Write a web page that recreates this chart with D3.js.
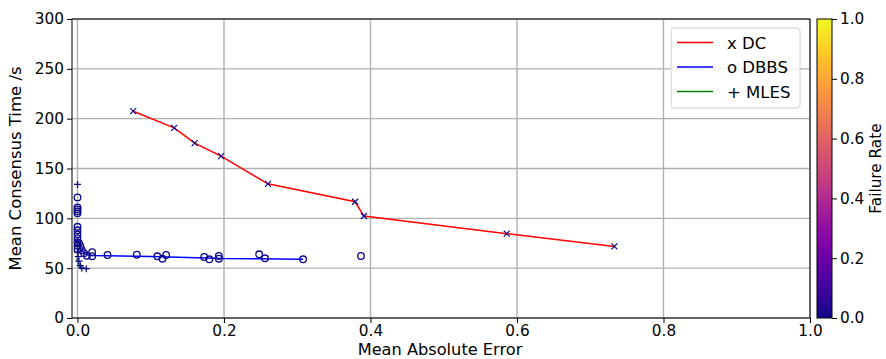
<!DOCTYPE html>
<html>
<head>
<meta charset="utf-8">
<script src="https://cdn.jsdelivr.net/npm/d3@7"></script>
<style>
  html, body { margin: 0; padding: 0; background: #fff; }
  svg { display: block; font-family: "DejaVu Sans", sans-serif; }
</style>
</head>
<body>
<svg id="chart" width="886" height="359"></svg>
<script>
// ---- data ----
// DC: mean absolute error, mean consensus time, failure rate
const dcError = [0.076, 0.132, 0.160, 0.196, 0.260, 0.379, 0.391, 0.586, 0.733];
const dcTime  = [207.5, 190.8, 175.5, 162.4, 134.6, 116.6, 102.3, 84.6, 71.8];
const dcFail  = [0, 0, 0, 0, 0, 0, 0, 0, 0];

// DBBS scatter points
const dbbsError = [0.000, 0.000, 0.000, 0.000, 0.000, 0.000, 0.000, 0.000, 0.000, 0.000, 0.000, 0.000,
                   0.002, 0.004, 0.006, 0.009, 0.013, 0.020, 0.020, 0.041, 0.081, 0.109, 0.116, 0.121,
                   0.173, 0.180, 0.193, 0.193, 0.248, 0.256, 0.308, 0.387];
const dbbsTime  = [121, 111, 109, 107, 105, 91.5, 88, 84, 80, 76, 72.5, 69,
                   75, 72, 68, 65, 62.5, 66, 62, 63.2, 63.5, 61.9, 59.5, 63.2,
                   61.2, 58.9, 62.2, 59.5, 63.9, 59.9, 58.9, 62.2];
const dbbsFail  = dbbsError.map(() => 0);

// DBBS trend line
const dbbsLineError = [0.000, 0.004, 0.010, 0.020, 0.100, 0.200, 0.308];
const dbbsLineTime  = [79, 70, 64.5, 62.8, 61.8, 59.6, 59.0];

// MLES scatter points
const mlesError = [0.000, 0.000, 0.001, 0.002, 0.004, 0.006, 0.012];
const mlesTime  = [134, 66, 61.5, 57, 52.5, 50, 49.5];
const mlesFail  = mlesError.map(() => 0);

// MLES trend line
const mlesLineError = [-0.001, 0.003, 0.013];
const mlesLineTime  = [60, 50.5, 49.5];

// tick labels
const xTicks = [0.0, 0.2, 0.4, 0.6, 0.8, 1.0];
const yTicks = [0, 50, 100, 150, 200, 250, 300];
const cbTicks = [0.0, 0.2, 0.4, 0.6, 0.8, 1.0];

const legendItems = [
  { label: "x DC", color: "#ff0000" },
  { label: "o DBBS", color: "#0000ff" },
  { label: "+ MLES", color: "#008000" }
];

// ---- layout ----
const svg = d3.select("#chart");
const plot = { left: 72, right: 810, top: 19, bottom: 318 };
const x = d3.scaleLinear().domain([-0.0075, 1.0]).range([plot.left, plot.right]);
const y = d3.scaleLinear().domain([0, 300]).range([plot.bottom, plot.top]);
const colorOf = v => d3.interpolatePlasma(v);
const tickFont = 15.3;
const labelFont = 16.5;

// grid
const grid = svg.append("g").attr("stroke", "#b0b0b0").attr("stroke-width", 1.4);
xTicks.forEach(t => grid.append("line")
  .attr("x1", x(t)).attr("x2", x(t)).attr("y1", plot.top).attr("y2", plot.bottom));
yTicks.forEach(t => grid.append("line")
  .attr("x1", plot.left).attr("x2", plot.right).attr("y1", y(t)).attr("y2", y(t)));

// lines
const line = d3.line().x(d => x(d[0])).y(d => y(d[1]));
const zip = (a, b) => a.map((v, i) => [v, b[i]]);

svg.append("path").datum(zip(dcError, dcTime))
  .attr("d", line).attr("fill", "none").attr("stroke", "#ff0000").attr("stroke-width", 1.5);
svg.append("path").datum(zip(dbbsLineError, dbbsLineTime))
  .attr("d", line).attr("fill", "none").attr("stroke", "#0000ff").attr("stroke-width", 1.5);
svg.append("path").datum(zip(mlesLineError, mlesLineTime))
  .attr("d", line).attr("fill", "none").attr("stroke", "#008000").attr("stroke-width", 1.5);

// markers, coloured by failure rate
svg.append("g").selectAll("circle")
  .data(dbbsError.map((e, i) => ({ e, t: dbbsTime[i], f: dbbsFail[i] })))
  .join("circle")
  .attr("cx", d => x(d.e)).attr("cy", d => y(d.t)).attr("r", 3.3)
  .attr("fill", "none").attr("stroke", d => colorOf(d.f)).attr("stroke-width", 1.3);

// "+" drawn as two strokes
svg.append("g").selectAll("path")
  .data(mlesError.map((e, i) => ({ e, t: mlesTime[i], f: mlesFail[i] })))
  .join("path")
  .attr("transform", d => `translate(${x(d.e)},${y(d.t)})`)
  .attr("d", "M-3.5,0H3.5M0,-3.5V3.5")
  .attr("fill", "none").attr("stroke", d => colorOf(d.f)).attr("stroke-width", 1.2);

// "x" drawn as two diagonal strokes
svg.append("g").selectAll("path")
  .data(dcError.map((e, i) => ({ e, t: dcTime[i], f: dcFail[i] })))
  .join("path")
  .attr("transform", d => `translate(${x(d.e)},${y(d.t)})`)
  .attr("d", "M-3,-3L3,3M-3,3L3,-3")
  .attr("fill", "none").attr("stroke", d => colorOf(d.f)).attr("stroke-width", 1.2);

// axes
const xAxis = d3.axisBottom(x).tickValues(xTicks).tickFormat(d3.format(".1f")).tickSize(5).tickPadding(2);
const yAxis = d3.axisLeft(y).tickValues(yTicks).tickFormat(d3.format("d")).tickSize(5).tickPadding(3);

const gx = svg.append("g").attr("transform", `translate(0,${plot.bottom})`).call(xAxis);
const gy = svg.append("g").attr("transform", `translate(${plot.left},0)`).call(yAxis);
[gx, gy].forEach(g => {
  g.selectAll("text").attr("font-size", tickFont).attr("font-family", "DejaVu Sans").attr("fill", "#000");
  g.selectAll("line").attr("stroke", "#000").attr("stroke-width", 1);
  g.select(".domain").remove();
});

// spines
svg.append("rect")
  .attr("x", plot.left).attr("y", plot.top)
  .attr("width", plot.right - plot.left).attr("height", plot.bottom - plot.top)
  .attr("fill", "none").attr("stroke", "#000").attr("stroke-width", 1);

// axis titles
svg.append("text").attr("x", (plot.left + plot.right) / 2 - 1).attr("y", 355)
  .attr("text-anchor", "middle").attr("font-size", 16.2).text("Mean Absolute Error");
svg.append("text").attr("transform", `translate(21,${(plot.top + plot.bottom) / 2}) rotate(-90)`)
  .attr("text-anchor", "middle").attr("font-size", labelFont).text("Mean Consensus Time /s");

// legend
const lg = svg.append("g").attr("transform", "translate(671,28)");
lg.append("rect").attr("width", 129).attr("height", 80).attr("rx", 3)
  .attr("fill", "#fff").attr("fill-opacity", 0.8).attr("stroke", "#d0d0d0");
legendItems.forEach((it, i) => {
  const yy = 14.5 + i * 24.5;
  lg.append("line").attr("x1", 6).attr("x2", 42).attr("y1", yy).attr("y2", yy)
    .attr("stroke", it.color).attr("stroke-width", 1.5);
  lg.append("text").attr("x", 56).attr("y", yy + 6).attr("font-size", labelFont).text(it.label);
});

// colorbar
const cb = { left: 817, width: 15, top: plot.top, bottom: plot.bottom };
const defs = svg.append("defs");
const grad = defs.append("linearGradient").attr("id", "plasma")
  .attr("x1", 0).attr("y1", 1).attr("x2", 0).attr("y2", 0);
d3.range(0, 1.0001, 0.05).forEach(s => grad.append("stop")
  .attr("offset", s).attr("stop-color", colorOf(s)));
svg.append("rect").attr("x", cb.left).attr("y", cb.top)
  .attr("width", cb.width).attr("height", cb.bottom - cb.top)
  .attr("fill", "url(#plasma)").attr("stroke", "#000").attr("stroke-width", 1);
const cy = d3.scaleLinear().domain([0, 1]).range([cb.bottom, cb.top]);
const cAxis = d3.axisRight(cy).tickValues(cbTicks).tickFormat(d3.format(".1f")).tickSize(5).tickPadding(3);
const gc = svg.append("g").attr("transform", `translate(${cb.left + cb.width},0)`).call(cAxis);
gc.select(".domain").remove();
gc.selectAll("text").attr("font-size", tickFont).attr("font-family", "DejaVu Sans").attr("fill", "#000");
gc.selectAll("line").attr("stroke", "#000");
svg.append("text").attr("transform", `translate(881,${(cb.top + cb.bottom) / 2}) rotate(-90)`)
  .attr("text-anchor", "middle").attr("font-size", tickFont).text("Failure Rate");
</script>
</body>
</html>
